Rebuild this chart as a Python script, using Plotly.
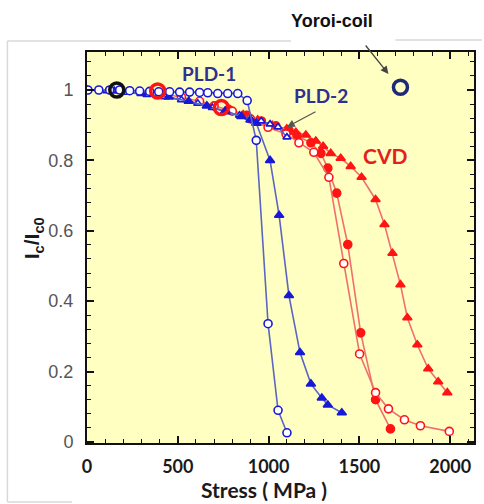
import plotly.graph_objects as go

# ---------------- data ----------------
pld1_circ_x = [5, 65, 125, 180, 235, 290, 345, 395, 455, 510, 565, 620, 665, 720, 775, 830, 882, 932, 997, 1052, 1101]
pld1_circ_y = [1.0, 1.0, 1.0, 1.0, 0.998, 0.997, 0.996, 0.995, 0.995, 0.994, 0.994, 0.993, 0.992, 0.99, 0.99, 0.99, 0.97, 0.857, 0.336, 0.09, 0.026]

pld1_tri_x = [0, 150, 300, 450, 560, 660, 760, 850, 900, 932, 1008, 1058, 1112, 1173, 1233, 1293, 1326, 1403]
pld1_tri_y = [1.0, 0.997, 0.99, 0.98, 0.968, 0.955, 0.94, 0.925, 0.915, 0.906, 0.80, 0.644, 0.416, 0.254, 0.165, 0.125, 0.105, 0.083]

pld2_x = [0, 110, 220, 330, 430, 520, 610, 690, 770, 840, 900, 959, 1008, 1052, 1101]
pld2_y = [1.0, 0.997, 0.993, 0.987, 0.98, 0.972, 0.962, 0.95, 0.938, 0.928, 0.918, 0.912, 0.903, 0.895, 0.866]

cvd_open_x = [420, 520, 620, 700, 800, 900, 997, 1096, 1167, 1249, 1332, 1414, 1501, 1589, 1660, 1748, 1836, 1995]
cvd_open_y = [0.99, 0.98, 0.968, 0.955, 0.94, 0.918, 0.894, 0.875, 0.85, 0.823, 0.752, 0.507, 0.25, 0.14, 0.094, 0.063, 0.046, 0.03]

cvd_fill_x = [780, 880, 960, 1040, 1112, 1156, 1233, 1288, 1326, 1375, 1436, 1507, 1589, 1671]
cvd_fill_y = [0.945, 0.928, 0.912, 0.898, 0.886, 0.87, 0.85, 0.82, 0.778, 0.707, 0.561, 0.31, 0.12, 0.037]

cvd_tri_x = [860, 940, 1020, 1100, 1150, 1205, 1260, 1300, 1342, 1397, 1452, 1512, 1589, 1638, 1682, 1726, 1764, 1819, 1879, 1934, 1984]
cvd_tri_y = [0.93, 0.915, 0.9, 0.89, 0.88, 0.872, 0.855, 0.84, 0.82, 0.806, 0.783, 0.752, 0.689, 0.618, 0.536, 0.447, 0.353, 0.276, 0.208, 0.171, 0.14]

black_pt_x = [164]
black_pt_y = [1.0]
red_big_x = [389, 740]
red_big_y = [0.997, 0.95]
yoroi_x = [1726]
yoroi_y = [1.008]

x_ticks = [0, 500, 1000, 1500, 2000]
y_ticks = [0, 0.2, 0.4, 0.6, 0.8, 1.0]
y_tick_labels = ["0", "0.2", "0.4", "0.6", "0.8", "1"]

# ---------------- style ----------------
BLUE_M = "#1818D8"
BLUE_L = "#5A66C4"
RED_M = "#FF1414"
RED_L = "#F07070"

fig = go.Figure()

def add(x, y, sym, mcol, lcol, fill, size=7):
    fig.add_trace(go.Scatter(
        x=x, y=y, mode="lines+markers",
        line=dict(color=lcol, width=1.6),
        marker=dict(symbol=sym, size=size, color=fill,
                    line=dict(color=mcol, width=1.6)),
        showlegend=False, hoverinfo="skip"))

add(cvd_tri_x, cvd_tri_y, "triangle-up", RED_M, RED_L, RED_M, 8)
add(cvd_fill_x, cvd_fill_y, "circle", RED_M, RED_L, RED_M, 8)
add(cvd_open_x, cvd_open_y, "circle", RED_M, RED_L, "white", 8)
add(pld2_x, pld2_y, "triangle-up", BLUE_M, BLUE_L, "white", 7)
add(pld1_tri_x, pld1_tri_y, "triangle-up", BLUE_M, BLUE_L, BLUE_M, 8)
add(pld1_circ_x, pld1_circ_y, "circle", BLUE_M, BLUE_L, "white", 8)

fig.add_trace(go.Scatter(x=red_big_x, y=red_big_y, mode="markers",
                         marker=dict(symbol="circle-open", size=14, color=RED_M, line=dict(width=3.5)),
                         showlegend=False, hoverinfo="skip"))
fig.add_trace(go.Scatter(x=black_pt_x, y=black_pt_y, mode="markers",
                         marker=dict(symbol="circle-open", size=14, color="#111111", line=dict(width=3.5)),
                         showlegend=False, hoverinfo="skip"))
fig.add_trace(go.Scatter(x=yoroi_x, y=yoroi_y, mode="markers",
                         marker=dict(symbol="circle-open", size=14, color="#1E2A78", line=dict(width=3.5)),
                         showlegend=False, hoverinfo="skip"))

# pixel helpers (plot area: x 87..476, y 52..443)
def px(x):
    return (x - 87) / 389.0

def py(y):
    return (443 - y) / 391.0

ann = []
def text(t, x, y, size, color, family="Lato", weight="bold"):
    ann.append(dict(text=t, x=px(x), y=py(y), xref="paper", yref="paper",
                    showarrow=False, xanchor="center", yanchor="middle",
                    font=dict(size=size, color=color, family=family, weight=weight)))

text("PLD-1", 210, 74, 19, "#2E3192")
text("PLD-2", 322, 95, 19, "#2E3192")
text("CVD", 387, 155, 21, "#E41E1E")
text("Yoroi-coil", 333, 21, 18, "#111111", family="Liberation Sans")
text("Stress ( MPa )", 265, 489, 21, "#1a1a1a")
ann.append(dict(text="I<sub>c</sub>/I<sub>c0</sub>", x=px(33), y=py(238), xref="paper", yref="paper",
                showarrow=False, textangle=-90, xanchor="center", yanchor="middle",
                font=dict(size=21, color="#1a1a1a", family="Liberation Sans", weight="bold")))

# arrows (head at x,y; tail given in pixels)
def arrow(hx, hy, tx, ty, color):
    ann.append(dict(x=px(hx), y=py(hy), ax=tx - hx, ay=ty - hy, xref="paper", yref="paper",
                    axref="pixel", ayref="pixel", text="", showarrow=True, arrowhead=2,
                    arrowsize=1.2, arrowwidth=1.3, arrowcolor=color))
arrow(390, 74, 366, 44, "#444444")
arrow(288, 127, 318, 111, "#555555")

shapes = []
def seg(x0, y0, x1, y1):
    shapes.append(dict(type="line", xref="paper", yref="paper",
                       x0=px(x0), y0=py(y0), x1=px(x1), y1=py(y1),
                       line=dict(color="#d9d9d9", width=1.5), layer="below"))
seg(7, 41, 7, 502)
seg(7, 41, 292, 41)
seg(397, 40, 484, 40)
seg(7, 502, 72, 502)

fig.update_layout(
    width=484, height=504,
    margin=dict(l=87, r=8, t=52, b=61),
    paper_bgcolor="white",
    plot_bgcolor="#FFFFC2",
    annotations=ann,
    shapes=shapes,
)

fig.update_xaxes(
    range=[0, 2131], tickvals=x_ticks, ticktext=[str(v) for v in x_ticks],
    ticks="inside", ticklen=7, tickwidth=1.5, tickcolor="#111",
    minor=dict(dtick=100, tick0=0, ticks="inside", ticklen=4, tickwidth=1.3, tickcolor="#111"),
    showline=True, linecolor="#111", linewidth=2, mirror="allticks",
    showgrid=False, zeroline=False,
    tickfont=dict(family="Lato", size=18, color="#1a1a1a", weight="bold"),
    ticklabelstandoff=6,
)
fig.update_yaxes(
    range=[-0.003, 1.108], tickvals=y_ticks, ticktext=y_tick_labels,
    ticks="inside", ticklen=7, tickwidth=1.5, tickcolor="#111",
    minor=dict(dtick=0.04, tick0=0, ticks="inside", ticklen=4, tickwidth=1.3, tickcolor="#111"),
    showline=True, linecolor="#111", linewidth=2, mirror="allticks",
    showgrid=False, zeroline=False,
    tickfont=dict(family="Liberation Sans", size=18, color="#555555"),
    ticklabelstandoff=8,
)

fig.write_html("out.html")
